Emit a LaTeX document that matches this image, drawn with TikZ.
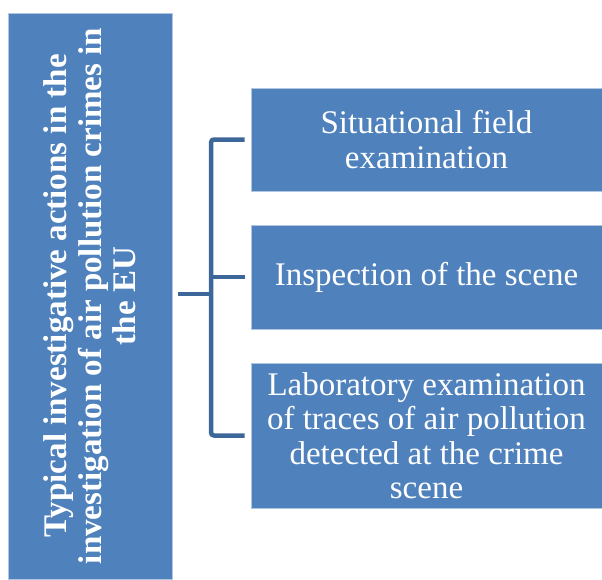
\documentclass[tikz,border=0pt]{standalone}
\usepackage{fontspec}
\setmainfont{Liberation Serif}
\definecolor{boxblue}{HTML}{4F81BD}
\definecolor{brkblue}{HTML}{3E6799}
\begin{document}
\begin{tikzpicture}[x=1pt,y=-1pt,
  bluebox/.style={rectangle, fill=boxblue, draw=white!55!boxblue, line width=0.8pt,
    inner sep=0pt, text=white, align=center, anchor=center,
    font=\fontsize{33}{34.5}\selectfont},
  brk/.style={draw=brkblue, line width=4.5pt}]
\useasboundingbox (0,0) rectangle (602,579);
\node[bluebox, minimum width=164pt, minimum height=566pt] (L) at (90,296)
  {\rotatebox{90}{\parbox{560pt}{\centering\bfseries Typical investigative actions in the\\ investigation of air pollution crimes in\\ the EU}}};
\node[bluebox, minimum width=351pt, minimum height=103pt] (R1) at (426.5,139.5)
  {Situational field\\ examination};
\node[bluebox, minimum width=351pt, minimum height=104pt] (R2) at (426.5,277)
  {Inspection of the scene};
\node[bluebox, minimum width=351pt, minimum height=145pt] (R3) at (426.5,435.5)
  {Laboratory examination\\ of traces of air pollution\\ detected at the crime\\ scene};
\coordinate (vx) at (211,0);
\coordinate (b1) at ([xshift=-6pt]R1.west);
\coordinate (b2) at ([xshift=-6pt]R2.west);
\coordinate (b3) at ([xshift=-6pt]R3.west);
\coordinate (st) at ([xshift=6pt,yshift=2pt]L.east);
\draw[brk, rounded corners=3pt] (b1) -- (b1 -| vx) -- (b3 -| vx) -- (b3);
\draw[brk] (b2) -- (b2 -| vx);
\draw[brk] (st) -- (st -| vx);
\end{tikzpicture}
\end{document}
